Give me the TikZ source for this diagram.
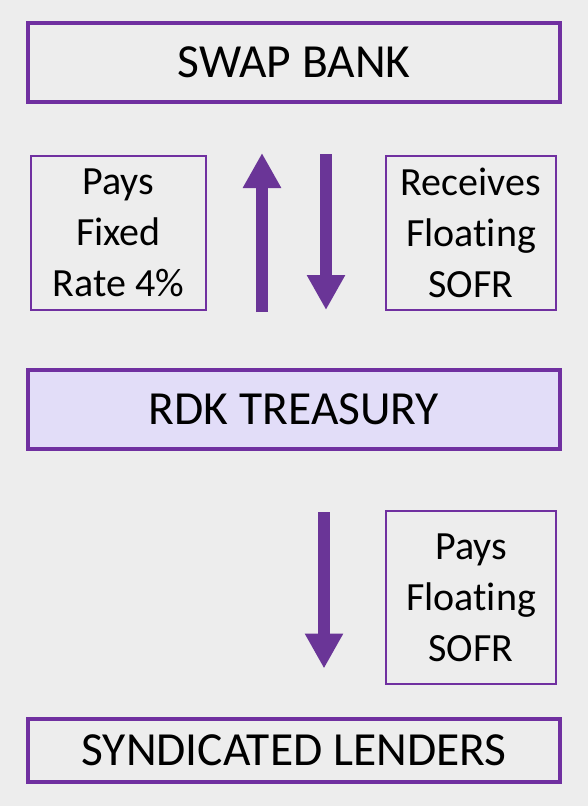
\documentclass[tikz,border=0pt]{standalone}
\usepackage{fontspec}
\setmainfont{Carlito}[Ligatures=NoCommon]
\usetikzlibrary{arrows.meta,positioning}
\definecolor{swappurple}{HTML}{7030A0}
\definecolor{arrowpurple}{HTML}{6A3597}
\definecolor{treasuryfill}{HTML}{E2DDF8}
\definecolor{backgray}{HTML}{EDEDED}

\begin{document}
\begin{tikzpicture}[x=1pt, y=-1pt,
    party/.style={draw=swappurple, line width=4pt, minimum width=532pt, minimum height=79pt, inner sep=0pt, outer sep=0pt, font=\fontsize{47.5}{55}\selectfont},
    flow/.style={draw=swappurple, line width=2pt, minimum width=170pt, minimum height=154pt, inner sep=0pt, outer sep=0pt, align=center, font=\fontsize{40}{51}\selectfont},
    bigarrow/.style={draw=arrowpurple, line width=12pt, -{Triangle[length=35pt, width=36pt]}}]
          \fill[backgray] (0,0) rectangle (588,806);
          \useasboundingbox (0,0) rectangle (588,806);
          \node [party] at (294,62.5) (swap) {SWAP BANK};
          \node [party, fill=treasuryfill] at (294,409.5) (rdk) {RDK TREASURY};
          \node [party, minimum height=63pt] at (294,750) (lenders) {SYNDICATED LENDERS};
          \node [flow, minimum width=175pt] at (118.5,233) (fixed) {Pays\\ Fixed\\ Rate 4\%};
          \node [flow] at (471,233) (recv) {Receives\\ Floating\\ SOFR};
          \node [flow, minimum height=173pt] at (471,597.5) (payfloat) {Pays\\ Floating\\ SOFR};
          \draw [bigarrow, shorten <=58pt, shorten >=51pt] ([xshift=-32pt]rdk.north) -- ([xshift=-32pt]swap.south);
          \draw [bigarrow, shorten <=52pt, shorten >=60pt] ([xshift=32pt]swap.south) -- ([xshift=32pt]rdk.north);
          \draw [bigarrow, shorten <=63pt, shorten >=50pt] ([xshift=30pt]rdk.south) -- ([xshift=30pt]lenders.north);
\end{tikzpicture}
\end{document}
